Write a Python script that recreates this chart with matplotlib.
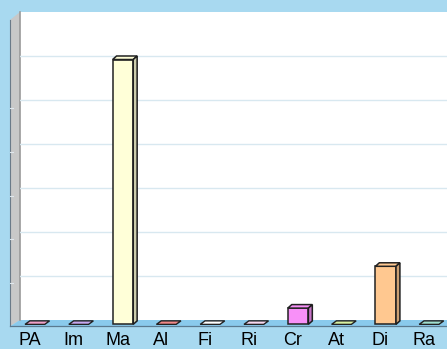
import matplotlib
matplotlib.use("Agg")
import matplotlib.pyplot as plt
from matplotlib.patches import Polygon, Rectangle

# categories and values
labels = ["PA", "Im", "Ma", "Al", "Fi", "Ri", "Cr", "At", "Di", "Ra"]
values = [0, 0, 6.0, 0, 0, 0, 0.35, 0, 1.3, 0]
colors = ["#F0A0C8", "#C8A8F0", "#FFFFD8", "#F08888", "#FFFFFF",
          "#F8D8F0", "#F890F8", "#D8F0A0", "#FFC890", "#A0E0D0"]

bg = "#A8D9F0"
W, H = 447, 349

fig = plt.figure(figsize=(W / 100, H / 100), dpi=100)
fig.patch.set_facecolor(bg)

# pixel-space layer for the walls and floor
back = fig.add_axes([0, 0, 1, 1], zorder=0)
back.set_xlim(0, W)
back.set_ylim(H, 0)
back.axis("off")
back.add_patch(Rectangle((20, 12), W - 20, 308, facecolor="white", edgecolor="none"))
back.add_patch(Polygon([(10, 20), (20, 12), (20, 320), (10, 326)],
                       facecolor="#C8C8C8", edgecolor="none"))
back.plot([20, 20], [12, 320], color="#9A9A9A", lw=1.2)
back.plot([10, 10], [20, 326], color="#6A7A88", lw=0.8)
back.add_patch(Polygon([(20, 319.5), (W, 319.5), (W, 326), (11, 326)],
                       facecolor="#8ACAEC", edgecolor="none"))
back.plot([10, W], [326, 326], color="#5A7A90", lw=0.9)
for yy in [108, 152, 196, 239, 283]:
    back.plot([10, 13], [yy, yy], color="#E0E8EE", lw=0.8)

# main chart
ax = fig.add_axes([20 / W, (H - 325) / H, (W - 20) / W, 313 / H], zorder=1)
ax.patch.set_alpha(0)
ax.set_xlim(-0.35, 9.40)
ax.set_ylim(-0.114, 7)
ax.set_yticks([1, 2, 3, 4, 5, 6])
ax.set_yticklabels([])
ax.tick_params(axis="y", length=0)
ax.grid(axis="y", color="#D8E8F0", lw=1.0)
ax.set_axisbelow(True)
for s in ax.spines.values():
    s.set_visible(False)

xs = list(range(len(labels)))
ax.set_xticks([x - 0.12 for x in xs])
ax.set_xticklabels(labels, fontsize=13, family=["Liberation Sans", "DejaVu Sans"])
ax.tick_params(axis="x", length=0, pad=5)

bw = 0.235  # half width of the front face
dx = 0.09   # depth offset
dy = 0.08
yb = -0.10  # front baseline
edge = "#222222"
for x, v, c in zip(xs, values, colors):
    if v == 0:
        tile = [(x - bw, yb), (x + bw - 0.02, yb), (x + bw + dx, yb + dy),
                (x - bw + dx + 0.02, yb + dy)]
        ax.add_patch(Polygon(tile, facecolor=c, edgecolor=edge, lw=1.0, zorder=3))
        continue
    top = v - dy
    ax.add_patch(Rectangle((x - bw, yb), 2 * bw, top - yb, facecolor=c,
                           edgecolor=edge, lw=1.1, zorder=3))
    ax.add_patch(Polygon([(x - bw, top), (x + bw, top), (x + bw + dx, v),
                          (x - bw + dx, v)], facecolor=c, edgecolor=edge,
                         lw=1.1, zorder=3))
    ax.add_patch(Polygon([(x + bw, yb), (x + bw + dx, yb + dy), (x + bw + dx, v),
                          (x + bw, top)], facecolor=c, edgecolor=edge, lw=1.1,
                         zorder=3))
    # darker shading on the side face
    ax.add_patch(Polygon([(x + bw, yb), (x + bw + dx, yb + dy), (x + bw + dx, v),
                          (x + bw, top)], facecolor="black", alpha=0.2,
                         edgecolor="none", zorder=3))

fig.savefig("out.png", dpi=100, facecolor=fig.get_facecolor())
